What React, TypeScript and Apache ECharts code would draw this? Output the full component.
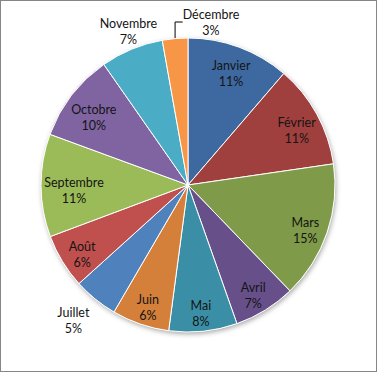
import React, { useEffect, useRef } from "react";
import * as echarts from "echarts";

const months = [
  "Janvier", "Février", "Mars", "Avril", "Mai", "Juin",
  "Juillet", "Août", "Septembre", "Octobre", "Novembre", "Décembre",
];
const values = [11.3, 11.4, 15.1, 6.8, 7.5, 6.3, 4.9, 6.0, 11.3, 9.7, 6.9, 2.8];
const colors = [
  "#3E69A0", "#A0403E", "#7F9A48", "#67508A", "#3A8FA6", "#D4803A",
  "#4F81BD", "#C0504D", "#9BBB59", "#8064A2", "#4BACC6", "#F79646",
];
// labels placed in different ways (as in the reference)
const outerLabels = ["Juillet", "Novembre"];
const leaderDecembre = "Décembre";

const FONT = "Lato, 'Open Sans', sans-serif";
const CENTER: [number, number] = [187, 184];
const R = 147;

// small "best fit" nudges of a few labels, as Excel places them
const nudge: Record<string, [number, number]> = {
  Septembre: [10, 0],
  Octobre: [4, 3],
  Juillet: [-5, -5],
  Novembre: [7, 2],
};

export default function App() {
  const ref = useRef<HTMLDivElement>(null);
  useEffect(() => {
    if (!ref.current) return;
    const chart = echarts.init(ref.current, undefined, { renderer: "svg" });
    const labelBase = {
      color: "#141414",
      fontFamily: FONT,
      fontSize: 12.5,
      lineHeight: 16,
      formatter: "{b}\n{d}%",
    };
    const ringSeries = (radius: [number, number], show: (name: string) => boolean) => ({
      type: "pie",
      radius,
      center: CENTER,
      startAngle: 90,
      silent: true,
      avoidLabelOverlap: false,
      percentPrecision: 0,
      emphasis: { disabled: true },
      itemStyle: { color: "rgba(0,0,0,0)", borderWidth: 0 },
      labelLine: { show: false },
      labelLayout: (p: any) => {
        const n = nudge[months[p.dataIndex]] || [0, 0];
        return { dx: n[0], dy: 5 + n[1] };
      },
      data: months.map((m, i) => ({
        name: m,
        value: values[i],
        label: { show: show(m), position: "inside", ...labelBase },
      })),
      z: 5,
    });
    chart.setOption({
      animation: false,
      backgroundColor: "#fff",
      series: [
        {
          type: "pie",
          radius: [0, R],
          center: CENTER,
          silent: true,
          label: { show: false },
          labelLine: { show: false },
          emphasis: { disabled: true },
          itemStyle: {
            color: "#fff",
            shadowBlur: 5,
            shadowColor: "rgba(0,0,0,0.35)",
            shadowOffsetX: 1,
            shadowOffsetY: 2,
          },
          data: [{ name: "", value: 1 }],
          z: 1,
        },
        {
          type: "pie",
          radius: [0, R],
          center: CENTER,
          startAngle: 90,
          avoidLabelOverlap: false,
          percentPrecision: 0,
          emphasis: { disabled: true },
          itemStyle: { borderColor: "#fff", borderWidth: 1 },
          label: { show: false },
          labelLine: { show: false },
          labelLayout: (p: any) =>
            p.dataIndex === 11
              ? { x: 210, y: 21, align: "center", verticalAlign: "middle" }
              : {},
          data: months.map((m, i) => ({
            name: m,
            value: values[i],
            itemStyle: { color: colors[i] },
            label:
              m === leaderDecembre
                ? { show: true, position: "outside", ...labelBase }
                : { show: false },
            labelLine:
              m === leaderDecembre
                ? {
                    show: true,
                    length: 21,
                    length2: 9,
                    lineStyle: { color: "#000", width: 1 },
                  }
                : { show: false },
          })),
          z: 2,
        },
        ringSeries([94, 148], (m) => !outerLabels.includes(m) && m !== leaderDecembre),
        ringSeries([151, 191], (m) => outerLabels.includes(m)),
      ],
    });
    return () => chart.dispose();
  }, []);
  return (
    <div
      style={{
        position: "absolute",
        left: 0,
        top: 0,
        width: 377,
        height: 372,
        boxSizing: "border-box",
        border: "1px solid #868686",
        background: "#fff",
      }}
    >
      <div ref={ref} style={{ width: 375, height: 370 }} />
    </div>
  );
}
